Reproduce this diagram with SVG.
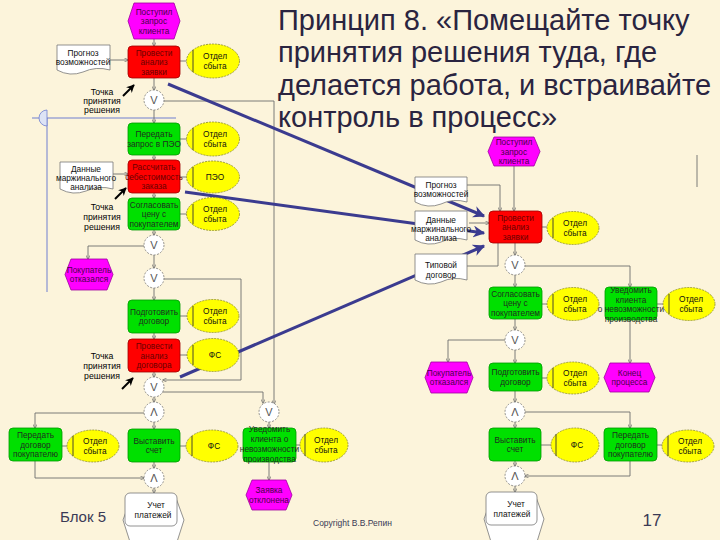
<svg xmlns="http://www.w3.org/2000/svg" width="720" height="540" viewBox="0 0 720 540">
<style>
text{font-family:"Liberation Sans",Arial,sans-serif;}
.t{font-size:8.3px;text-anchor:middle;}
.fg{fill:#00e000;stroke:#009a00;stroke-width:0.8;}
.fr{fill:#ff0000;stroke:#a00000;stroke-width:0.8;}
.hx{fill:#ff00ff;stroke:#a000a0;stroke-width:0.8;}
.el{fill:#ffff00;stroke:#8a8a30;stroke-width:0.8;stroke-dasharray:2 1;}
.elv{stroke:#333;stroke-width:0.9;}
.dc{fill:#ffffff;stroke:#777;stroke-width:0.8;}
.gw{fill:#ffffff;stroke:#777;stroke-width:0.8;stroke-dasharray:2 1.5;}
.gs{font-size:11px;text-anchor:middle;fill:#555;}
.tg{fill:#1f2f1f;}
.tr{fill:#6a0000;}
.tm{fill:#4a004a;}
.tk{fill:#111;}
.c{fill:none;stroke:#6e6e6e;stroke-width:0.9;}
.b{fill:none;stroke:#3b3b8f;stroke-width:3;}
.g{fill:none;stroke:#6f7fd0;stroke-width:1;}
.tp{font-size:8.7px;text-anchor:middle;fill:#000;}
.ti{font-size:29px;fill:#2a2440;}
</style>
<defs>
<marker id="ah" viewBox="0 0 8 8" refX="7" refY="4" markerWidth="5" markerHeight="5" orient="auto"><path d="M0,0 L8,4 L0,8" fill="none" stroke="#6e6e6e" stroke-width="1.2"/></marker>
<marker id="bh" viewBox="0 0 10 10" refX="9" refY="5" markerWidth="4" markerHeight="4" orient="auto"><path d="M0,0 L10,5 L0,10 L3,5 Z" fill="#3b3b8f"/></marker>
<marker id="kh" viewBox="0 0 10 10" refX="9" refY="5" markerWidth="4" markerHeight="4" orient="auto"><path d="M0,0 L10,5 L0,10 L3,5 Z" fill="#000"/></marker>
</defs>
<rect width="720" height="540" fill="#fcf4db"/>

<!-- guides -->
<g id="guides">
<line class="g" x1="32" y1="118" x2="176" y2="118"/>
<line class="g" x1="47" y1="118" x2="47" y2="292"/>
<path d="M47,110 A8,8 0 0 0 47,126 Z" fill="#dde3f5" stroke="#6f7fd0" stroke-width="0.8"/>
</g>

<!-- title -->
<g id="title">
<text class="ti" x="278" y="30">Принцип 8. «Помещайте точку</text>
<text class="ti" x="278" y="62">принятия решения туда, где</text>
<text class="ti" x="278" y="95">делается работа, и встраивайте</text>
<text class="ti" x="278" y="127">контроль в процесс»</text>
</g>

<!-- connectors -->
<g id="connectors">
<!-- left column -->
<path class="c" d="M154,39 V46" marker-end="url(#ah)"/>
<path class="c" d="M110,60 H128" marker-end="url(#ah)"/>
<path class="c" d="M180,61 H186"/>
<path class="c" d="M154,78 V90" marker-end="url(#ah)"/>
<path class="c" d="M164,101 H274 V404" marker-end="url(#ah)"/>
<path class="c" d="M154,110 V123" marker-end="url(#ah)"/>
<path class="c" d="M180,139 H187"/>
<path class="c" d="M154,155 V160" marker-end="url(#ah)"/>
<path class="c" d="M113,174 H128" marker-end="url(#ah)"/>
<path class="c" d="M180,177 H187"/>
<path class="c" d="M154,193 V198" marker-end="url(#ah)"/>
<path class="c" d="M180,214 H187"/>
<path class="c" d="M154,230 V235" marker-end="url(#ah)"/>
<path class="c" d="M144,246 H88 V259" marker-end="url(#ah)"/>
<path class="c" d="M154,255 V268" marker-end="url(#ah)"/>
<path class="c" d="M164,279 H241 V380 H163" marker-end="url(#ah)"/>
<path class="c" d="M154,288 V300" marker-end="url(#ah)"/>
<path class="c" d="M180,316 H187"/>
<path class="c" d="M154,333 V339" marker-end="url(#ah)"/>
<path class="c" d="M180,355 H187"/>
<path class="c" d="M154,372 V377" marker-end="url(#ah)"/>
<path class="c" d="M162,392 H263 V403" marker-end="url(#ah)"/>
<path class="c" d="M154,397 V402" marker-end="url(#ah)"/>
<path class="c" d="M144,413 H35 V428" marker-end="url(#ah)"/>
<path class="c" d="M154,422 V429" marker-end="url(#ah)"/>
<path class="c" d="M62,446 H67"/>
<path class="c" d="M180,446 H186"/>
<path class="c" d="M154,462 V468" marker-end="url(#ah)"/>
<path class="c" d="M35,461 V478 H144" marker-end="url(#ah)"/>
<path class="c" d="M154,488 V493" marker-end="url(#ah)"/>
<path class="c" d="M269,422 V428" marker-end="url(#ah)"/>
<path class="c" d="M296,445 H300"/>
<path class="c" d="M269,462 V480" marker-end="url(#ah)"/>
<!-- right column -->
<path class="c" d="M514,166 V211" marker-end="url(#ah)"/>
<path class="c" d="M467,185 H500 V211" marker-end="url(#ah)"/>
<path class="c" d="M469,223 H489" marker-end="url(#ah)"/>
<path class="c" d="M467,266 H498 V243"/>
<path class="c" d="M541,227 H547"/>
<path class="c" d="M515,243 V255" marker-end="url(#ah)"/>
<path class="c" d="M525,266 H630 V287" marker-end="url(#ah)"/>
<path class="c" d="M515,275 V287" marker-end="url(#ah)"/>
<path class="c" d="M541,304 H547"/>
<path class="c" d="M657,304 H663"/>
<path class="c" d="M630,320 V363" marker-end="url(#ah)"/>
<path class="c" d="M515,319 V330" marker-end="url(#ah)"/>
<path class="c" d="M505,340 H448 V362" marker-end="url(#ah)"/>
<path class="c" d="M515,350 V363" marker-end="url(#ah)"/>
<path class="c" d="M541,378 H547"/>
<path class="c" d="M515,391 V402" marker-end="url(#ah)"/>
<path class="c" d="M525,412 H630 V428" marker-end="url(#ah)"/>
<path class="c" d="M515,422 V428" marker-end="url(#ah)"/>
<path class="c" d="M541,445 H551"/>
<path class="c" d="M657,445 H662"/>
<path class="c" d="M515,461 V466" marker-end="url(#ah)"/>
<path class="c" d="M630,461 V476 H525" marker-end="url(#ah)"/>
<path class="c" d="M515,486 V492" marker-end="url(#ah)"/>
<path class="c" d="M697,155 V187"/>
<!-- blue pointers -->
<path class="b" d="M168,84 L484,216" marker-end="url(#bh)"/>
<path class="b" d="M185,192 L484,233" marker-end="url(#bh)"/>
<path class="b" d="M180,377 L484,246" marker-end="url(#bh)"/>
<!-- black pointers -->
<path d="M123,96 L134,85" stroke="#000" stroke-width="2" marker-end="url(#kh)"/>
<path d="M115,199 L126,188" stroke="#000" stroke-width="2" marker-end="url(#kh)"/>
<path d="M122,389 L133,378" stroke="#000" stroke-width="2" marker-end="url(#kh)"/>
</g>

<!-- LEFT COLUMN NODES -->
<g id="l-event-start">
<polygon class="hx" points="134,3 174,3 180,21 174,39 134,39 128,21"/>
<text class="t tm" x="154" y="14.5">Поступил</text><text class="t tm" x="154" y="24">запрос</text><text class="t tm" x="154" y="33.5">клиента</text>
</g>
<g id="l-doc-forecast">
<path class="dc" d="M57,45 H110 V70 Q96,66 83,72 Q70,77 57,70 Z"/>
<text class="t tk" x="83" y="56">Прогноз</text><text class="t tk" x="83" y="65">возможностей</text>
</g>
<g id="l-analyze-request">
<rect class="fr" x="128" y="46" width="52" height="32" rx="4"/>
<text class="t tr" x="154" y="55.5">Провести</text><text class="t tr" x="154" y="65">анализ</text><text class="t tr" x="154" y="74.5">заявки</text>
</g>
<g id="l-org1">
<ellipse class="el" cx="213" cy="61" rx="26.5" ry="17"/><line class="elv" x1="193" y1="50" x2="193" y2="72"/>
<text class="t tk" x="215" y="59">Отдел</text><text class="t tk" x="215" y="68.5">сбыта</text>
</g>
<g id="l-point1">
<text class="tp" x="102" y="95">Точка</text><text class="tp" x="102" y="104">принятия</text><text class="tp" x="102" y="113">решения</text>
</g>
<g id="l-xor1"><circle class="gw" cx="154" cy="100" r="10"/><text class="gs" x="154" y="104">V</text></g>
<g id="l-send-peo">
<rect class="fg" x="128" y="123" width="52" height="32" rx="4"/>
<text class="t tg" x="154" y="137">Передать</text><text class="t tg" x="154" y="146.5">запрос в ПЭО</text>
</g>
<g id="l-org2">
<ellipse class="el" cx="213" cy="139" rx="26.5" ry="17"/><line class="elv" x1="193" y1="128" x2="193" y2="150"/>
<text class="t tk" x="215" y="137">Отдел</text><text class="t tk" x="215" y="146.5">сбыта</text>
</g>
<g id="l-calc-cost">
<rect class="fr" x="128" y="160" width="52" height="33" rx="4"/>
<text class="t tr" x="154" y="170">Рассчитать</text><text class="t tr" x="154" y="179.5">себестоимость</text><text class="t tr" x="154" y="189">заказа</text>
</g>
<g id="l-peo">
<ellipse class="el" cx="213" cy="177" rx="26.5" ry="16"/><line class="elv" x1="193" y1="167" x2="193" y2="187"/>
<text class="t tk" x="215" y="180">ПЭО</text>
</g>
<g id="l-doc-margin">
<path class="dc" d="M60,162 H113 V189 Q99,185 86,191 Q73,196 60,189 Z"/>
<text class="t tk" x="86" y="171.5">Данные</text><text class="t tk" x="86" y="180.5">маржинального</text><text class="t tk" x="86" y="189.5">анализа</text>
</g>
<g id="l-point2">
<text class="tp" x="102" y="210">Точка</text><text class="tp" x="102" y="220">принятия</text><text class="tp" x="102" y="230">решения</text>
</g>
<g id="l-agree-price">
<rect class="fg" x="128" y="198" width="52" height="32" rx="4"/>
<text class="t tg" x="154" y="207.5">Согласовать</text><text class="t tg" x="154" y="217">цену с</text><text class="t tg" x="154" y="226.5">покупателем</text>
</g>
<g id="l-org3">
<ellipse class="el" cx="213" cy="214" rx="26.5" ry="16.5"/><line class="elv" x1="193" y1="204" x2="193" y2="224"/>
<text class="t tk" x="215" y="212">Отдел</text><text class="t tk" x="215" y="221.5">сбыта</text>
</g>
<g id="l-xor2"><circle class="gw" cx="154" cy="245" r="10"/><text class="gs" x="154" y="249">V</text></g>
<g id="l-xor3"><circle class="gw" cx="154" cy="278" r="10"/><text class="gs" x="154" y="282">V</text></g>
<g id="l-refused">
<polygon class="hx" points="71,259 107,259 113,274.5 107,290 71,290 65,274.5"/>
<text class="t tm" x="89" y="272.5">Покупатель</text><text class="t tm" x="89" y="282">отказался</text>
</g>
<g id="l-prepare">
<rect class="fg" x="128" y="300" width="52" height="33" rx="4"/>
<text class="t tg" x="154" y="314.5">Подготовить</text><text class="t tg" x="154" y="324">договор</text>
</g>
<g id="l-org4">
<ellipse class="el" cx="213" cy="316" rx="26" ry="16.5"/><line class="elv" x1="193" y1="306" x2="193" y2="326"/>
<text class="t tk" x="215" y="314">Отдел</text><text class="t tk" x="215" y="323.5">сбыта</text>
</g>
<g id="l-analyze-contract">
<rect class="fr" x="128" y="339" width="52" height="33" rx="4"/>
<text class="t tr" x="154" y="349">Провести</text><text class="t tr" x="154" y="358.5">анализ</text><text class="t tr" x="154" y="368">договора</text>
</g>
<g id="l-fs1">
<ellipse class="el" cx="213" cy="355" rx="26" ry="16.5"/><line class="elv" x1="193" y1="345" x2="193" y2="365"/>
<text class="t tk" x="215" y="358">ФС</text>
</g>
<g id="l-point3">
<text class="tp" x="102" y="359">Точка</text><text class="tp" x="102" y="369">принятия</text><text class="tp" x="102" y="379">решения</text>
</g>
<g id="l-xor4"><circle class="gw" cx="154" cy="387" r="10"/><text class="gs" x="154" y="391">V</text></g>
<g id="l-and1"><circle class="gw" cx="154" cy="412" r="10"/><text class="gs" x="154" y="416">Λ</text></g>
<g id="l-hand-over">
<rect class="fg" x="9" y="428" width="53" height="33" rx="4"/>
<text class="t tg" x="35.5" y="438">Передать</text><text class="t tg" x="35.5" y="447.5">договор</text><text class="t tg" x="35.5" y="457">покупателю</text>
</g>
<g id="l-org5">
<ellipse class="el" cx="93" cy="446" rx="26" ry="16"/><line class="elv" x1="73" y1="436" x2="73" y2="456"/>
<text class="t tk" x="95" y="444">Отдел</text><text class="t tk" x="95" y="453.5">сбыта</text>
</g>
<g id="l-invoice">
<rect class="fg" x="128" y="429" width="52" height="33" rx="4"/>
<text class="t tg" x="154" y="443.5">Выставить</text><text class="t tg" x="154" y="453">счет</text>
</g>
<g id="l-fs2">
<ellipse class="el" cx="212" cy="446" rx="26" ry="16"/><line class="elv" x1="192" y1="436" x2="192" y2="456"/>
<text class="t tk" x="214" y="449">ФС</text>
</g>
<g id="l-and2"><circle class="gw" cx="154" cy="478" r="10"/><text class="gs" x="154" y="482">Λ</text></g>
<g id="l-payments">
<polygon class="dc" points="131,498 176,498 184,520 176,545 131,545 123,520"/>
<rect class="dc" x="125" y="493" width="52" height="33" rx="5"/>
<text class="t tk" x="156" y="508">Учет</text><text class="t tk" x="153" y="517.5">платежей</text>
</g>
<g id="l-xor5"><circle class="gw" cx="269" cy="412" r="10"/><text class="gs" x="269" y="416">V</text></g>
<g id="l-notify">
<rect class="fg" x="243" y="428" width="53" height="34" rx="4"/>
<text class="t tg" x="269.5" y="432">Уведомить</text><text class="t tg" x="269.5" y="442">клиента о</text><text class="t tg" x="269.5" y="452">невозможности</text><text class="t tg" x="269.5" y="462">производства</text>
</g>
<g id="l-org6">
<ellipse class="el" cx="324" cy="445" rx="24" ry="17"/><line class="elv" x1="305" y1="434" x2="305" y2="456"/>
<text class="t tk" x="326" y="443">Отдел</text><text class="t tk" x="326" y="452.5">сбыта</text>
</g>
<g id="l-rejected">
<polygon class="hx" points="252,480 286,480 292,495 286,510 252,510 246,495"/>
<text class="t tm" x="269" y="493">Заявка</text><text class="t tm" x="269" y="502.5">отклонена</text>
</g>

<!-- RIGHT COLUMN NODES -->
<g id="r-event-start">
<polygon class="hx" points="494,137 534,137 540,151.5 534,166 494,166 488,151.5"/>
<text class="t tm" x="514" y="145">Поступил</text><text class="t tm" x="514" y="154.5">запрос</text><text class="t tm" x="514" y="164">клиента</text>
</g>
<g id="r-doc-forecast">
<path class="dc" d="M415,177 H467 V202 Q453,198 441,204 Q428,209 415,202 Z"/>
<text class="t tk" x="441" y="188">Прогноз</text><text class="t tk" x="441" y="197">возможностей</text>
</g>
<g id="r-doc-margin">
<path class="dc" d="M415,211 H467 V240 Q453,236 441,242 Q428,247 415,240 Z"/>
<text class="t tk" x="441" y="223">Данные</text><text class="t tk" x="441" y="232">маржинального</text><text class="t tk" x="441" y="241">анализа</text>
</g>
<g id="r-doc-contract">
<path class="dc" d="M415,254 H467 V280 Q453,276 441,282 Q428,287 415,280 Z"/>
<text class="t tk" x="441" y="268">Типовой</text><text class="t tk" x="441" y="278">договор</text>
</g>
<g id="r-analyze-request">
<rect class="fr" x="489" y="211" width="53" height="32" rx="4"/>
<text class="t tr" x="515.5" y="220.5">Провести</text><text class="t tr" x="515.5" y="230">анализ</text><text class="t tr" x="515.5" y="239.5">заявки</text>
</g>
<g id="r-org1">
<ellipse class="el" cx="573" cy="228" rx="26" ry="16.5"/><line class="elv" x1="553" y1="218" x2="553" y2="238"/>
<text class="t tk" x="575" y="226">Отдел</text><text class="t tk" x="575" y="235.5">сбыта</text>
</g>
<g id="r-xor1"><circle class="gw" cx="515" cy="265" r="10"/><text class="gs" x="515" y="269">V</text></g>
<g id="r-agree-price">
<rect class="fg" x="489" y="287" width="53" height="32" rx="4"/>
<text class="t tg" x="515.5" y="296.5">Согласовать</text><text class="t tg" x="515.5" y="306">цену с</text><text class="t tg" x="515.5" y="315.5">покупателем</text>
</g>
<g id="r-org2">
<ellipse class="el" cx="573" cy="304" rx="26" ry="16.5"/><line class="elv" x1="553" y1="294" x2="553" y2="314"/>
<text class="t tk" x="575" y="302">Отдел</text><text class="t tk" x="575" y="311.5">сбыта</text>
</g>
<g id="r-notify">
<rect class="fg" x="605" y="287" width="52" height="33" rx="4"/>
<text class="t tg" x="631" y="293">Уведомить</text><text class="t tg" x="631" y="302.5">клиента</text><text class="t tg" x="631" y="312">о невозможности</text><text class="t tg" x="631" y="321.5">производства</text>
</g>
<g id="r-org3">
<ellipse class="el" cx="689" cy="304" rx="26" ry="16.5"/><line class="elv" x1="669" y1="294" x2="669" y2="314"/>
<text class="t tk" x="691" y="302">Отдел</text><text class="t tk" x="691" y="311.5">сбыта</text>
</g>
<g id="r-xor2"><circle class="gw" cx="515" cy="340" r="10"/><text class="gs" x="515" y="344">V</text></g>
<g id="r-refused">
<polygon class="hx" points="431,362 467,362 473,377.5 467,393 431,393 425,377.5"/>
<text class="t tm" x="449" y="375.5">Покупатель</text><text class="t tm" x="449" y="385">отказался</text>
</g>
<g id="r-prepare">
<rect class="fg" x="489" y="363" width="53" height="28" rx="4"/>
<text class="t tg" x="515.5" y="375">Подготовить</text><text class="t tg" x="515.5" y="384.5">договор</text>
</g>
<g id="r-org4">
<ellipse class="el" cx="573" cy="378" rx="26" ry="16"/><line class="elv" x1="553" y1="368" x2="553" y2="388"/>
<text class="t tk" x="575" y="376">Отдел</text><text class="t tk" x="575" y="385.5">сбыта</text>
</g>
<g id="r-end">
<polygon class="hx" points="610,363 649,363 655,377.5 649,392 610,392 604,377.5"/>
<text class="t tm" x="629.5" y="375.5">Конец</text><text class="t tm" x="629.5" y="385">процесса</text>
</g>
<g id="r-and1"><circle class="gw" cx="515" cy="412" r="10"/><text class="gs" x="515" y="416">Λ</text></g>
<g id="r-invoice">
<rect class="fg" x="489" y="428" width="52" height="33" rx="4"/>
<text class="t tg" x="515" y="442.5">Выставить</text><text class="t tg" x="515" y="452">счет</text>
</g>
<g id="r-fs">
<ellipse class="el" cx="575" cy="445" rx="24" ry="17"/><line class="elv" x1="556" y1="434" x2="556" y2="456"/>
<text class="t tk" x="577" y="448">ФС</text>
</g>
<g id="r-hand-over">
<rect class="fg" x="604" y="428" width="53" height="33" rx="4"/>
<text class="t tg" x="630.5" y="438">Передать</text><text class="t tg" x="630.5" y="447.5">договор</text><text class="t tg" x="630.5" y="457">покупателю</text>
</g>
<g id="r-org5">
<ellipse class="el" cx="688" cy="446" rx="26" ry="16"/><line class="elv" x1="668" y1="436" x2="668" y2="456"/>
<text class="t tk" x="690" y="444">Отдел</text><text class="t tk" x="690" y="453.5">сбыта</text>
</g>
<g id="r-and2"><circle class="gw" cx="515" cy="476" r="10"/><text class="gs" x="515" y="480">Λ</text></g>
<g id="r-payments">
<polygon class="dc" points="492,497 536,497 544,519 536,545 492,545 484,519"/>
<rect class="dc" x="486" y="492" width="51" height="33" rx="5"/>
<text class="t tk" x="516" y="507">Учет</text><text class="t tk" x="512" y="516.5">платежей</text>
</g>

<!-- footer -->
<g id="footer">
<text x="60" y="522" font-size="15" fill="#3a3a55">Блок 5</text>
<text x="313" y="526" font-size="8.5" fill="#3a3a55">Copyright В.В.Репин</text>
<text x="652" y="526" font-size="17" fill="#3a3a55" text-anchor="middle">17</text>
</g>
</svg>
